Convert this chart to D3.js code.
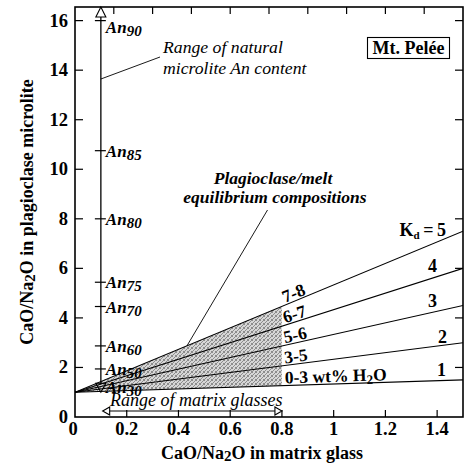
<!DOCTYPE html>
<html>
<head>
<meta charset="utf-8">
<script src="https://cdn.jsdelivr.net/npm/d3@7"></script>
<style>
  body { margin: 0; background: #fff; }
</style>
</head>
<body>
<div id="chart"></div>
<script>
// data
const kdValues = [1, 2, 3, 4, 5];
const kdEndY = [1.5, 3.0, 4.5, 6.0, 7.5];      // CaO/Na2O plag at x = 1.5
const lineOrigin = [0, 1];
const waterLabels = ["0-3 wt% H", "3-5", "5-6", "6-7", "7-8"];
const anNames = ["90", "85", "80", "75", "70", "60", "50", "30"];
const anValues = [16.0, 10.75, 8.0, 5.44, 4.46, 2.87, 1.94, 1.22];
const anColumnX = 0.1;
const anRange = [1.0, 16.55];
const glassRange = [0.107, 0.8];
const shadeMaxX = 0.8;
const xTicks = [0, 0.2, 0.4, 0.6, 0.8, 1, 1.2, 1.4];
const xTickLabels = ["0", "0.2", "0.4", "0.6", "0.8", "1", "1.2", "1.4"];
const topTicks = [0.15, 0.3, 0.45, 0.6, 0.75, 0.9, 1.05, 1.2, 1.35];
const yTicks = [0, 2, 4, 6, 8, 10, 12, 14, 16];

const width = 466, height = 468;
const margin = { top: 7, right: 3, bottom: 51, left: 75 };

const svg = d3.select("#chart").append("svg")
  .attr("width", width)
  .attr("height", height)
  .attr("font-family", "'Liberation Serif', 'Times New Roman', Times, serif");

const x = d3.scaleLinear().domain([0, 1.5]).range([margin.left, width - margin.right]);
const y = d3.scaleLinear().domain([0, 16.55]).range([height - margin.bottom, margin.top]);

// stipple pattern for the equilibrium field
const defs = svg.append("defs");
const pat = defs.append("pattern")
  .attr("id", "stipple").attr("width", 4).attr("height", 4)
  .attr("patternUnits", "userSpaceOnUse");
pat.append("rect").attr("width", 4).attr("height", 4).attr("fill", "#d6d6d6");
[[0, 0], [2, 1], [1, 2], [3, 3], [3, 0], [0, 3]].forEach(([px, py]) => {
  pat.append("rect").attr("x", px).attr("y", py).attr("width", 1).attr("height", 1).attr("fill", "#8c8c8c");
});

defs.append("clipPath").attr("id", "plotclip")
  .append("rect")
  .attr("x", x(0)).attr("y", y(16.55))
  .attr("width", x(1.5) - x(0)).attr("height", y(0) - y(16.55));

const slope = (i) => (kdEndY[i] - lineOrigin[1]) / (1.5 - lineOrigin[0]);
const lineAt = (i, xv) => lineOrigin[1] + slope(i) * (xv - lineOrigin[0]);

// shaded field between Kd=1 and Kd=5 up to x=0.8
const lo = 0, hi = kdValues.length - 1;
svg.append("path")
  .attr("d", d3.line()([
    [x(lineOrigin[0]), y(lineOrigin[1])],
    [x(shadeMaxX), y(lineAt(lo, shadeMaxX))],
    [x(shadeMaxX), y(lineAt(hi, shadeMaxX))]
  ]) + "Z")
  .attr("fill", "url(#stipple)");

// Kd lines
svg.append("g").attr("clip-path", "url(#plotclip)")
  .selectAll("line").data(kdValues).join("line")
  .attr("x1", x(lineOrigin[0])).attr("y1", y(lineOrigin[1]))
  .attr("x2", x(1.5)).attr("y2", (d, i) => y(kdEndY[i]))
  .attr("stroke", "#000").attr("stroke-width", 1.1);

// water content labels sitting on each line
const wl = svg.append("g").attr("font-weight", "bold").attr("font-size", 17.5);
waterLabels.forEach((lab, i) => {
  const xv = 0.812;
  const ang = Math.atan2(y(lineAt(i, 1)) - y(lineAt(i, 0)), x(1) - x(0)) * 180 / Math.PI;
  const t = wl.append("text")
    .attr("transform", `translate(${x(xv)},${y(lineAt(i, xv)) - 2}) rotate(${ang})`);
  t.append("tspan").text(lab);
  if (i === 0) {
    t.append("tspan").attr("font-size", 13).attr("dy", 3).text("2");
    t.append("tspan").attr("dy", -3).text("O");
  }
});

// Kd labels at the right
const kdLab = svg.append("g").attr("font-weight", "bold").attr("font-size", 18)
  .attr("text-anchor", "end");
const kdLabelPos = [[446, 376], [447, 343], [437, 307], [437, 272], [446, 236]];
kdValues.forEach((k, i) => {
  const t = kdLab.append("text").attr("x", kdLabelPos[i][0]).attr("y", kdLabelPos[i][1]);
  if (k === 5) {
    t.append("tspan").text("K");
    t.append("tspan").attr("font-size", 11).attr("dy", 3).text("d");
    t.append("tspan").attr("dy", -3).text("\u2009=\u2009" + k);
  } else {
    t.text(k);
  }
});

// An column
const anG = svg.append("g");
anG.append("line")
  .attr("x1", x(anColumnX)).attr("x2", x(anColumnX))
  .attr("y1", y(anRange[0]) - 8).attr("y2", y(anRange[1]) + 10)
  .attr("stroke", "#000").attr("stroke-width", 1.3);
const tri = 5;
anG.append("path")
  .attr("d", `M${x(anColumnX)},${y(anRange[1])} l${tri},${2 * tri} l${-2 * tri},0 Z`)
  .attr("fill", "#fff").attr("stroke", "#000").attr("stroke-width", 1.1);
anG.append("path")
  .attr("d", `M${x(anColumnX)},${y(anRange[0])} l${tri},${-9} l${-2 * tri},0 Z`)
  .attr("fill", "none").attr("stroke", "#000").attr("stroke-width", 1.1);
anG.selectAll("line.tick").data(anValues.slice(0, 7)).join("line")
  .attr("class", "tick")
  .attr("x1", x(anColumnX) - 6).attr("x2", x(anColumnX) + 5)
  .attr("y1", d => y(d)).attr("y2", d => y(d))
  .attr("stroke", "#000").attr("stroke-width", 1.2);
const anText = anG.selectAll("text").data(anNames).join("text")
  .attr("x", x(anColumnX) + 5)
  .attr("y", (d, i) => i === 0 ? y(anValues[i]) + 12 : y(anValues[i]) + 6)
  .attr("font-weight", "bold").attr("font-style", "italic").attr("font-size", 17);
anText.append("tspan").text("An");
anText.append("tspan").attr("font-size", 15).attr("dy", 3).text(d => d);

// frame
svg.append("rect")
  .attr("x", x(0)).attr("y", y(16.55))
  .attr("width", x(1.5) - x(0)).attr("height", y(0) - y(16.55))
  .attr("fill", "none").attr("stroke", "#000").attr("stroke-width", 1.6);

// ticks (inward)
const tk = svg.append("g").attr("stroke", "#000").attr("stroke-width", 1.2);
tk.selectAll("line.xb").data(xTicks.slice(1)).join("line").attr("class", "xb")
  .attr("x1", d => x(d)).attr("x2", d => x(d))
  .attr("y1", y(0)).attr("y2", y(0) - 7);
tk.selectAll("line.xt").data(topTicks).join("line").attr("class", "xt")
  .attr("x1", d => x(d)).attr("x2", d => x(d))
  .attr("y1", y(16.55)).attr("y2", y(16.55) + 7);
tk.selectAll("line.yl").data(yTicks.slice(1)).join("line").attr("class", "yl")
  .attr("x1", x(0)).attr("x2", x(0) + 8)
  .attr("y1", d => y(d)).attr("y2", d => y(d));
tk.selectAll("line.yr").data(yTicks.slice(1)).join("line").attr("class", "yr")
  .attr("x1", x(1.5)).attr("x2", x(1.5) - 8)
  .attr("y1", d => y(d)).attr("y2", d => y(d));

// tick labels
svg.append("g").attr("font-weight", "bold").attr("font-size", 18.5).attr("text-anchor", "middle")
  .selectAll("text").data(xTicks).join("text")
  .attr("x", (d, i) => i === 0 ? x(d) - 2 : x(d)).attr("y", y(0) + 18)
  .text((d, i) => xTickLabels[i]);
svg.append("g").attr("font-weight", "bold").attr("font-size", 18.5).attr("text-anchor", "end")
  .selectAll("text").data(yTicks).join("text")
  .attr("x", x(0) - 7).attr("y", d => y(d) + 6)
  .text(d => d);

// axis titles
const xt = svg.append("text")
  .attr("x", 262).attr("y", 459)
  .attr("text-anchor", "middle").attr("font-weight", "bold").attr("font-size", 18);
xt.append("tspan").text("CaO/Na");
xt.append("tspan").attr("font-size", 15).attr("dy", 2).text("2");
xt.append("tspan").attr("dy", -2).text("O in matrix glass");

const yt = svg.append("text")
  .attr("transform", "translate(33,212) rotate(-90)")
  .attr("text-anchor", "middle").attr("font-weight", "bold").attr("font-size", 18);
yt.append("tspan").text("CaO/Na");
yt.append("tspan").attr("font-size", 15).attr("dy", 2).text("2");
yt.append("tspan").attr("dy", -2).text("O in plagioclase microlite");

// annotations
const note = svg.append("g").attr("font-style", "italic").attr("font-size", 17.7);
note.append("text").attr("x", 163).attr("y", 53).text("Range of natural");
note.append("text").attr("x", 163).attr("y", 74).text("microlite An content");
svg.append("line")
  .attr("x1", x(anColumnX)).attr("y1", 79).attr("x2", 160).attr("y2", 57)
  .attr("stroke", "#000").attr("stroke-width", 0.9);

const eq = svg.append("g").attr("font-style", "italic").attr("font-weight", "bold")
  .attr("font-size", 17.5).attr("text-anchor", "middle");
eq.append("text").attr("x", 273).attr("y", 184).text("Plagioclase/melt");
eq.append("text").attr("x", 275).attr("y", 203).text("equilibrium compositions");
svg.append("line")
  .attr("x1", 267.5).attr("y1", 210)
  .attr("x2", x(0.433)).attr("y2", y(lineAt(hi, 0.433)))
  .attr("stroke", "#000").attr("stroke-width", 0.9);

// Mt. Pelée box
svg.append("rect").attr("x", 367.5).attr("y", 37.5).attr("width", 82).attr("height", 21)
  .attr("fill", "#fff").attr("stroke", "#000").attr("stroke-width", 1.1);
svg.append("text").attr("x", 408.5).attr("y", 53.5).attr("text-anchor", "middle")
  .attr("font-weight", "bold").attr("font-size", 18).text("Mt. Pelée");

// range of matrix glasses
svg.append("text").attr("x", 110).attr("y", 406)
  .attr("font-style", "italic").attr("font-size", 18).text("Range of matrix glasses");
const ay = 411, ah = 7, aw = 4;
const ga = svg.append("g").attr("stroke", "#000").attr("stroke-width", 1.1).attr("fill", "#fff");
ga.append("line")
  .attr("x1", x(glassRange[0]) + ah).attr("x2", x(glassRange[1]) - ah)
  .attr("y1", ay).attr("y2", ay);
ga.append("path")
  .attr("d", `M${x(glassRange[0])},${ay} l${ah},${-aw} l0,${2 * aw} Z`);
ga.append("path")
  .attr("d", `M${x(glassRange[1])},${ay} l${-ah},${-aw} l0,${2 * aw} Z`);
</script>
</body>
</html>
